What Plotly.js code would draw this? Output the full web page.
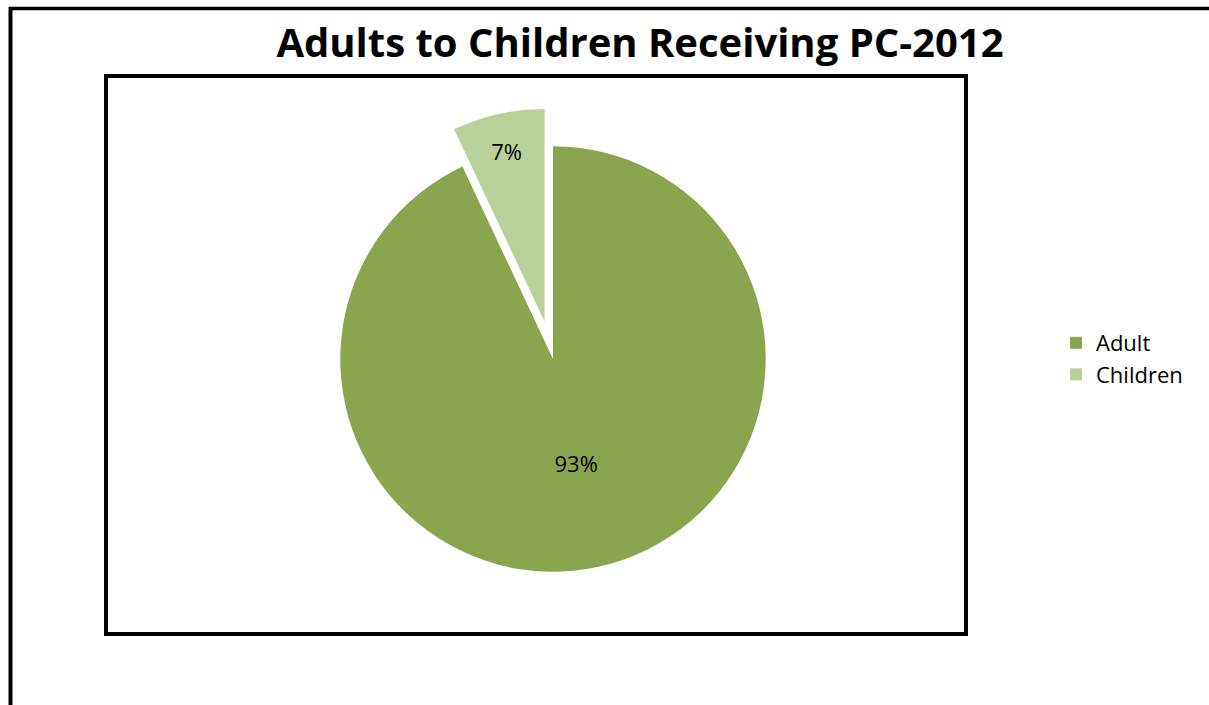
<!DOCTYPE html>
<html>
<head>
<meta charset="utf-8">
<script src="https://cdn.plot.ly/plotly-3.0.1.min.js"></script>
<style>
html,body{margin:0;padding:0;background:#fff;}
#chart{width:1209px;height:705px;}
</style>
</head>
<body>
<div id="chart"></div>
<script>
var categories = ["Adult", "Children"];
var shares = [93, 7];
var sliceColors = ["#8AA54E", "#B9D09A"];
var titleText = "Adults to Children Receiving PC-2012";

var W = 1209, H = 705;
function px(x){return x/W;}
function py(y){return 1 - y/H;}

var trace = {
  type: "pie",
  labels: categories,
  values: shares,
  sort: false,
  direction: "clockwise",
  rotation: 0,
  pull: [0, 0.18],
  marker: {colors: sliceColors, line: {color: "#ffffff", width: 0}},
  textinfo: "percent",
  texttemplate: "%{percent:.0%}",
  textposition: "inside",
  insidetextorientation: "horizontal",
  textfont: {family: "Open Sans, sans-serif", size: 22, color: "#000000"},
  domain: {x: [px(290), px(816)], y: [py(610), py(108)]},
  hoverinfo: "label+percent"
};

var layout = {
  width: W, height: H,
  margin: {l: 0, r: 0, t: 0, b: 0},
  paper_bgcolor: "#ffffff",
  showlegend: true,
  title: {
    text: "<b>" + titleText + "</b>",
    x: px(640), xanchor: "center",
    y: py(43), yanchor: "middle",
    font: {family: "Open Sans, sans-serif", size: 40, color: "#000000"}
  },
  legend: {
    x: px(1056), y: py(322), xanchor: "left", yanchor: "top",
    font: {family: "Open Sans, sans-serif", size: 22, color: "#000000"},
    bgcolor: "rgba(0,0,0,0)"
  },
  shapes: [
    {type: "line", xref: "paper", yref: "paper", x0: px(10.5), x1: px(10.5), y0: py(7), y1: 0, line: {color: "#000", width: 4}},
    {type: "line", xref: "paper", yref: "paper", x0: px(9), x1: 1, y0: py(8.5), y1: py(8.5), line: {color: "#000", width: 3.5}},
    {type: "rect", xref: "paper", yref: "paper", x0: px(106), x1: px(966), y0: py(76), y1: py(634), line: {color: "#000", width: 4}}
  ]
};

Plotly.newPlot("chart", [trace], layout, {displayModeBar: false, staticPlot: true});
</script>
</body>
</html>
